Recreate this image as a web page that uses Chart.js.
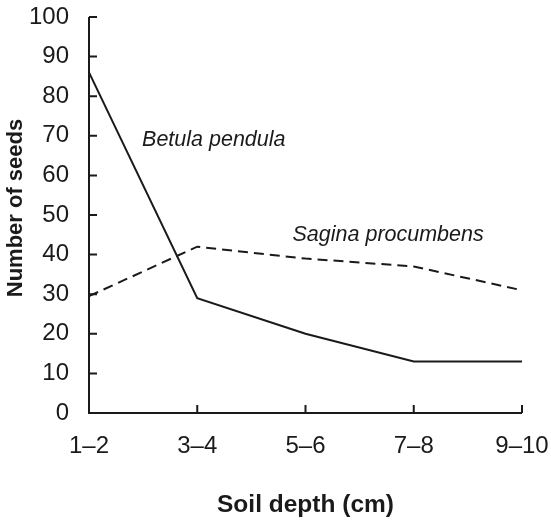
<!DOCTYPE html>
<html>
<head>
<meta charset="utf-8">
<script src="https://cdn.jsdelivr.net/npm/chart.js@4/dist/chart.umd.min.js"></script>
<style>
  html, body { margin: 0; padding: 0; background: #fff; }
  #wrap { width: 551px; height: 520px; }
</style>
</head>
<body>
<div id="wrap"><canvas id="chart"></canvas></div>
<script>
const depths = ["1–2", "3–4", "5–6", "7–8", "9–10"];
const betula = [86, 29, 20, 13, 13];
const sagina = [29.5, 42, 39, 37, 31];
const yTicks = [0, 10, 20, 30, 40, 50, 60, 70, 80, 90, 100];

const FONT = "'Liberation Sans', Arial, sans-serif";
const INK = "#1a1a1a";

// species labels placed in data units (x = category index, y = seeds)
const speciesLabels = [
  { text: "Betula pendula", x: 0.49, y: 69 },
  { text: "Sagina procumbens", x: 1.88, y: 45 }
];

const axisTicks = {
  id: "axisTicks",
  afterDraw(chart) {
    const ctx = chart.ctx;
    const xs = chart.scales.x, ys = chart.scales.y;
    const area = chart.chartArea;
    ctx.save();
    ctx.strokeStyle = INK;
    ctx.lineWidth = 2;
    ctx.beginPath();
    // axes
    ctx.moveTo(area.left, ys.getPixelForValue(100));
    ctx.lineTo(area.left, ys.getPixelForValue(0));
    ctx.lineTo(xs.getPixelForValue(depths.length - 1), ys.getPixelForValue(0));
    // inward ticks
    yTicks.forEach(v => {
      const py = ys.getPixelForValue(v);
      ctx.moveTo(area.left, py);
      ctx.lineTo(area.left + 8, py);
    });
    depths.forEach((d, i) => {
      if (i === 0) return;
      const px = xs.getPixelForValue(i);
      ctx.moveTo(px, ys.getPixelForValue(0));
      ctx.lineTo(px, ys.getPixelForValue(0) - 8);
    });
    ctx.stroke();

    ctx.fillStyle = INK;
    ctx.font = "italic 21.5px " + FONT;
    ctx.textBaseline = "middle";
    ctx.textAlign = "left";
    speciesLabels.forEach(l => {
      const i0 = Math.floor(l.x), f = l.x - i0;
      const px = xs.getPixelForValue(i0) + f * (xs.getPixelForValue(i0 + 1) - xs.getPixelForValue(i0));
      ctx.fillText(l.text, px, ys.getPixelForValue(l.y));
    });

    // y axis title, sits a little above the middle of the axis
    ctx.font = "bold 22px " + FONT;
    ctx.textAlign = "center";
    ctx.translate(16, (area.top + area.bottom) / 2 - 7);
    ctx.rotate(-Math.PI / 2);
    ctx.fillText("Number of seeds", 0, 0);
    ctx.restore();
  }
};

new Chart(document.getElementById("chart"), {
  type: "line",
  data: {
    labels: depths,
    datasets: [
      {
        label: "Betula pendula",
        data: betula,
        borderColor: INK,
        borderWidth: 2,
        pointRadius: 0,
        tension: 0,
        fill: false
      },
      {
        label: "Sagina procumbens",
        data: sagina,
        borderColor: INK,
        borderWidth: 2,
        borderDash: [10, 6],
        pointRadius: 0,
        tension: 0,
        fill: false
      }
    ]
  },
  options: {
    responsive: true,
    maintainAspectRatio: false,
    animation: false,
    layout: { padding: { top: 17, right: 29, left: 0, bottom: 0 } },
    plugins: {
      legend: { display: false },
      tooltip: { enabled: false }
    },
    scales: {
      x: {
        offset: false,
        grid: { display: false, drawTicks: false },
        border: { display: false },
        ticks: {
          color: INK,
          padding: 19,
          maxRotation: 0,
          autoSkip: false,
          font: { family: FONT, size: 24 }
        },
        title: {
          display: true,
          text: "Soil depth (cm)",
          color: INK,
          padding: { top: 18, bottom: 0 },
          font: { family: FONT, size: 24.5, weight: "bold" }
        },
        afterFit(scale) {
          scale.height = 107;
          scale.paddingLeft = 0;
          scale.paddingRight = 0;
        }
      },
      y: {
        min: 0,
        max: 100,
        afterBuildTicks(scale) { scale.ticks = yTicks.map(v => ({ value: v })); },
        grid: { display: false, drawTicks: false },
        border: { display: false },
        ticks: {
          color: INK,
          padding: 20,
          font: { family: FONT, size: 24 }
        },
        afterFit(scale) {
          scale.width = 89;
          scale.paddingTop = 0;
          scale.paddingBottom = 0;
        }
      }
    }
  },
  plugins: [axisTicks]
});
</script>
</body>
</html>
